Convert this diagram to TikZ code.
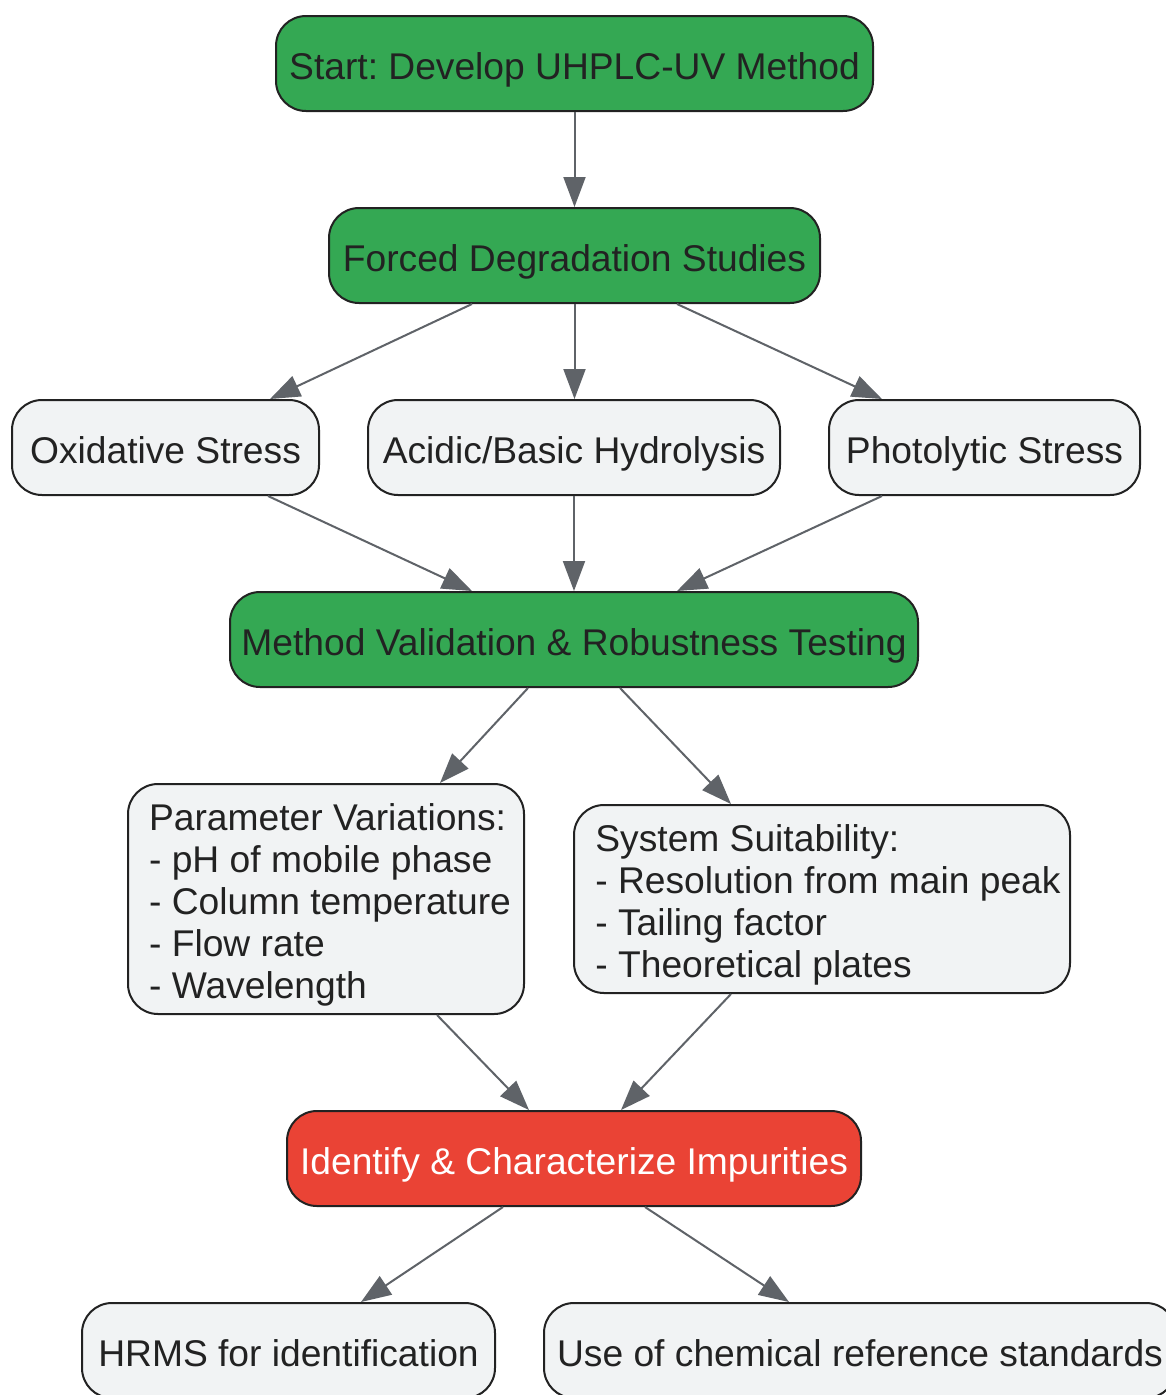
\documentclass[tikz,border=0pt]{standalone}
\usepackage{fontspec}
\setmainfont{Liberation Sans}
\frenchspacing
\usetikzlibrary{arrows.meta}
\definecolor{gfill}{HTML}{34A853}
\definecolor{rfill}{HTML}{EA4335}
\definecolor{nfill}{HTML}{F1F3F4}
\definecolor{edge}{HTML}{222222}
\definecolor{txt}{HTML}{222222}
\definecolor{arr}{HTML}{5F6368}
\begin{document}
\begin{tikzpicture}[x=1pt,y=-1pt,
  box/.style={draw=edge, line width=2pt, rounded corners=30pt, text=txt,
    font=\fontsize{37.2}{42}\selectfont, inner sep=0pt,
    text height=31pt, text depth=0pt},
  greenbox/.style={box, fill=gfill},
  redbox/.style={box, fill=rfill, text=white},
  graybox/.style={box, fill=nfill},
  multitext/.style={text=txt, font=\fontsize{37.2}{42}\selectfont, inner sep=0pt, align=left},
  conn/.style={draw=arr, line width=2pt, -{Triangle[length=30pt,width=22pt]}}
]
\useasboundingbox (0,0) rectangle (1166,1395);
\fill[white] (0,0) rectangle (1166,1395);

\node[greenbox, minimum width=597pt, minimum height=95pt] (start) at (574.5,63.5) {Start: Develop UHPLC-UV Method};
\node[greenbox, minimum width=491pt, minimum height=95pt] (forced) at (574.5,255.5) {Forced Degradation Studies};
\node[graybox, minimum width=307pt, minimum height=95pt] (ox) at (165.5,447.5) {Oxidative Stress};
\node[graybox, minimum width=412pt, minimum height=95pt] (acid) at (574,447.5) {Acidic/Basic Hydrolysis};
\node[graybox, minimum width=311pt, minimum height=95pt] (photo) at (984.5,447.5) {Photolytic Stress};
\node[greenbox, minimum width=688pt, minimum height=95pt] (mv) at (574,639.5) {Method Validation \& Robustness Testing};
\node[graybox, minimum width=396pt, minimum height=230pt] (param) at (326,899) {};
\node[multitext] (paramtext) at ([shift={(4,6)}]param.center) {Parameter Variations:\\- pH of mobile phase\\- Column temperature\\- Flow rate\\- Wavelength};
\node[graybox, minimum width=496pt, minimum height=188pt] (sys) at (822,899) {};
\node[multitext] (systext) at ([shift={(6,6)}]sys.center) {System Suitability:\\- Resolution from main peak\\- Tailing factor\\- Theoretical plates};
\node[redbox, minimum width=574pt, minimum height=95pt] (ident) at (574,1158.5) {Identify \& Characterize Impurities};
\node[graybox, minimum width=413pt, minimum height=95pt] (hrms) at (288.5,1350.5) {HRMS for identification};
\node[graybox, minimum width=632pt, minimum height=95pt] (ref) at (860,1350.5) {Use of chemical reference standards};

\draw[conn] (start.south) -- (forced.north);
\draw[conn] ([xshift=-102.5pt]forced.south) -- ([xshift=104.5pt]ox.north);
\draw[conn] (forced.south) -- (forced.south |- acid.north);
\draw[conn] ([xshift=102.5pt]forced.south) -- ([xshift=-102.5pt]photo.north);
\draw[conn] ([xshift=102.5pt]ox.south) -- ([xshift=-102pt]mv.north);
\draw[conn] (acid.south) -- (mv.north);
\draw[conn] ([xshift=-102.5pt]photo.south) -- ([xshift=103pt]mv.north);
\draw[conn] ([xshift=-46pt]mv.south) -- ([xshift=114pt]param.north);
\draw[conn] ([xshift=46pt]mv.south) -- ([xshift=-91pt]sys.north);
\draw[conn] ([xshift=111pt]param.south) -- ([xshift=-45pt]ident.north);
\draw[conn] ([xshift=-91pt]sys.south) -- ([xshift=47pt]ident.north);
\draw[conn] ([xshift=-71pt]ident.south) -- ([xshift=72.5pt]hrms.north);
\draw[conn] ([xshift=71pt]ident.south) -- ([xshift=-71pt]ref.north);
\end{tikzpicture}
\end{document}
